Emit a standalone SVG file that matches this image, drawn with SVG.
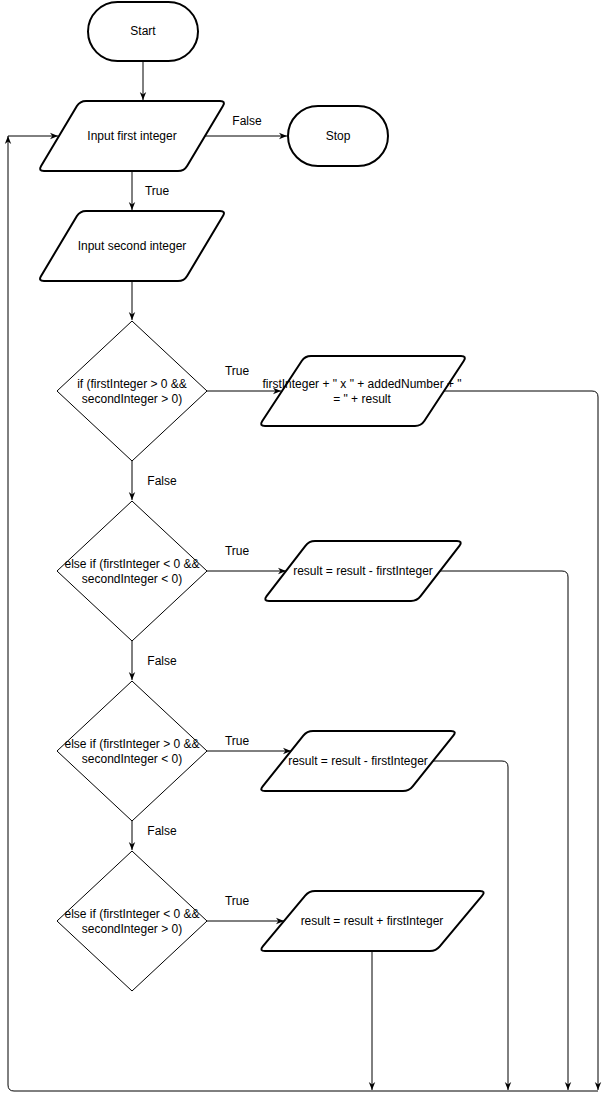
<svg xmlns="http://www.w3.org/2000/svg" width="608" height="1102" viewBox="0 0 608 1102">
<style>
text{font-family:"Liberation Sans",Arial,Helvetica,sans-serif;font-size:12px;fill:#000;text-anchor:middle;dominant-baseline:central}
.term,.io{fill:#fff;stroke:#000;stroke-width:2;stroke-linejoin:round}
.dec{fill:#fff;stroke:#000;stroke-width:1}
.edge{fill:none;stroke:#000;stroke-width:1}
.arr{marker-end:url(#ah)}
</style>
<defs>
<marker id="ah" viewBox="0 0 10 10" refX="10" refY="5" markerWidth="8" markerHeight="8" markerUnits="userSpaceOnUse" orient="auto">
<path d="M0,1 L10,5 L0,9 L3,5 z" fill="#000"/>
</marker>
</defs>
<rect width="608" height="1102" fill="#fff"/>
<g id="connectors">
<path class="edge arr" d="M143,62 L143,100"/>
<path class="edge arr" d="M205,136 L287,136"/>
<path class="edge arr" d="M132,171 L132,210"/>
<path class="edge arr" d="M132,281 L132,320"/>
<path class="edge arr" d="M207,391 L281,391"/>
<path class="edge arr" d="M132,461 L132,500"/>
<path class="edge arr" d="M207,571 L286,571"/>
<path class="edge arr" d="M132,641 L132,680"/>
<path class="edge arr" d="M207,751 L291,751"/>
<path class="edge arr" d="M132,821 L132,850"/>
<path class="edge arr" d="M207,921 L284,921"/>
<path class="edge arr" d="M444,391 L592,391 Q598,391 598,397 L598,1090"/>
<path class="edge arr" d="M440,571 L562,571 Q568,571 568,577 L568,1090"/>
<path class="edge arr" d="M433,761 L502,761 Q508,761 508,767 L508,1090"/>
<path class="edge arr" d="M372,951 L372,1090"/>
<path class="edge arr" d="M598,1091 L14,1091 Q8,1091 8,1085 L8,136"/>
<path class="edge arr" d="M8,136 L58,136"/>
<text x="247" y="121">False</text>
<text x="157" y="191">True</text>
<text x="237" y="371">True</text>
<text x="162" y="481">False</text>
<text x="237" y="551">True</text>
<text x="162" y="661">False</text>
<text x="237" y="741">True</text>
<text x="162" y="831">False</text>
<text x="237" y="901">True</text>
</g>
<g id="start">
<rect class="term" x="88" y="2" width="110" height="59" rx="29.5"/>
<text x="143" y="31">Start</text>
</g>
<g id="stop">
<rect class="term" x="288" y="106" width="100" height="60" rx="30"/>
<text x="338" y="136">Stop</text>
</g>
<g id="input1">
<path class="io" d="M86,101 L220,101 Q226,101 222.9,106.1 L187.1,165.9 Q184,171 178,171 L44,171 Q38,171 41.1,165.9 L76.9,106.1 Q80,101 86,101 Z"/>
<text x="132" y="136">Input first integer</text>
</g>
<g id="input2">
<path class="io" d="M86,211 L220,211 Q226,211 222.9,216.1 L187.1,275.9 Q184,281 178,281 L44,281 Q38,281 41.1,275.9 L76.9,216.1 Q80,211 86,211 Z"/>
<text x="132" y="246">Input second integer</text>
</g>
<g id="dec1">
<path class="dec" d="M132,321 L207,391 L132,461 L57,391 Z"/>
<text x="132" y="384">if (firstInteger &gt; 0 &amp;&amp;</text>
<text x="132" y="399">secondInteger &gt; 0)</text>
</g>
<g id="out1">
<path class="io" d="M311,356 L461,356 Q467,356 463.7,361 L424.3,421 Q421,426 415,426 L265,426 Q259,426 262.3,421 L301.7,361 Q305,356 311,356 Z"/>
<text x="362" y="384">firstInteger + " x " + addedNumber + "</text>
<text x="362" y="399">= " + result</text>
</g>
<g id="dec2">
<path class="dec" d="M132,501 L207,571 L132,641 L57,571 Z"/>
<text x="132" y="564">else if (firstInteger &lt; 0 &amp;&amp;</text>
<text x="132" y="579">secondInteger &lt; 0)</text>
</g>
<g id="out2">
<path class="io" d="M315,541 L457,541 Q463,541 459.4,545.8 L420.6,596.2 Q417,601 411,601 L269,601 Q263,601 266.6,596.2 L305.4,545.8 Q309,541 315,541 Z"/>
<text x="363" y="571">result = result - firstInteger</text>
</g>
<g id="dec3">
<path class="dec" d="M132,681 L207,751 L132,821 L57,751 Z"/>
<text x="132" y="744">else if (firstInteger &gt; 0 &amp;&amp;</text>
<text x="132" y="759">secondInteger &lt; 0)</text>
</g>
<g id="out3">
<path class="io" d="M313,731 L451,731 Q457,731 453.3,735.7 L412.7,786.3 Q409,791 403,791 L265,791 Q259,791 262.7,786.3 L303.3,735.7 Q307,731 313,731 Z"/>
<text x="358" y="761">result = result - firstInteger</text>
</g>
<g id="dec4">
<path class="dec" d="M132,851 L207,921 L132,991 L57,921 Z"/>
<text x="132" y="914">else if (firstInteger &lt; 0 &amp;&amp;</text>
<text x="132" y="929">secondInteger &gt; 0)</text>
</g>
<g id="out4">
<path class="io" d="M315,891 L480,891 Q486,891 482.2,895.6 L439.8,946.4 Q436,951 430,951 L265,951 Q259,951 262.8,946.4 L305.2,895.6 Q309,891 315,891 Z"/>
<text x="372" y="921">result = result + firstInteger</text>
</g>
</svg>
